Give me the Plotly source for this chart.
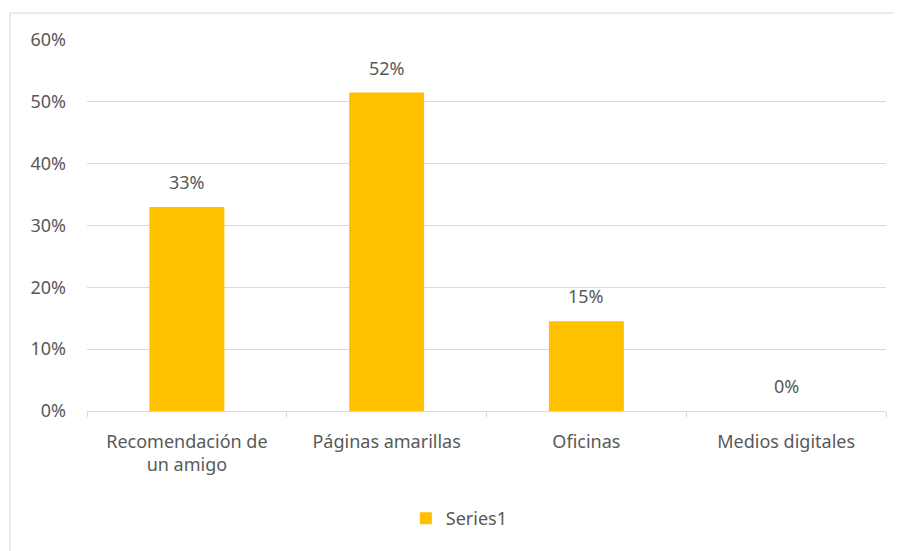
import plotly.graph_objects as go

categories = ["Recomendación de<br>un amigo", "Páginas amarillas", "Oficinas", "Medios digitales"]
values = [0.33, 0.515, 0.145, 0.0]
labels = ["33%", "52%", "15%", "0%"]
series_name = "Series1"

text_color = "#595959"
grid_color = "#d9d9d9"
font_family = "Noto Sans, Open Sans, sans-serif"
fsize = 18

fig = go.Figure()
fig.add_trace(go.Bar(
    x=categories,
    y=values,
    name=series_name,
    marker=dict(color="#FFC000", line=dict(width=0)),
    showlegend=True,
))

# data labels above bars
for cat, val, lab in zip(categories, values, labels):
    fig.add_annotation(
        x=cat, y=val, text=lab, showarrow=False,
        yanchor="middle", yshift=25,
        font=dict(size=fsize, color=text_color, family=font_family),
    )

# thin chart-area border (left and top)
fig.add_shape(type="line", xref="paper", yref="paper",
              x0=-0.0964, x1=-0.0964, y0=-0.4, y1=1.0728,
              line=dict(color=grid_color, width=1))
fig.add_shape(type="line", xref="paper", yref="paper",
              x0=-0.0964, x1=1.05, y0=1.0728, y1=1.0728,
              line=dict(color=grid_color, width=1))

# page body has an 8px margin, so the figure is shrunk and shifted to match
fig.update_layout(
    width=893, height=543,
    margin=dict(l=79, r=15, t=32, b=140),
    paper_bgcolor="white", plot_bgcolor="white",
    bargap=0.625,
    font=dict(family=font_family, size=fsize, color=text_color),
    legend=dict(orientation="h", x=0.466, xanchor="center", y=-0.29, yanchor="middle",
                font=dict(size=fsize, color=text_color)),
)
fig.update_yaxes(
    range=[0, 0.6], dtick=0.1, tickformat=".0%",
    showgrid=True, gridcolor=grid_color, gridwidth=1,
    zeroline=False, showline=False, ticks="",
    ticklabelstandoff=20,
)
fig.update_xaxes(
    showline=True, linecolor=grid_color, linewidth=1,
    ticks="outside", tickson="boundaries", ticklen=5, tickcolor=grid_color,
    showgrid=False, ticklabelstandoff=14,
)

fig.write_html("out.html")
